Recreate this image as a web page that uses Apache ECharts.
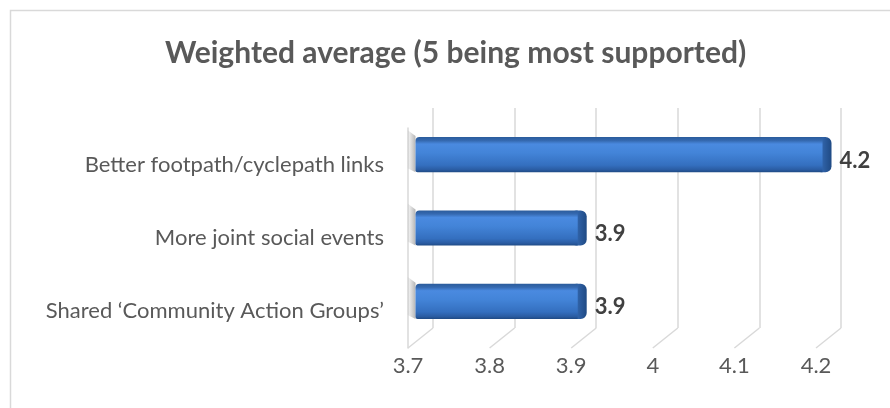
<!DOCTYPE html>
<html>
<head>
<meta charset="utf-8">
<script src="https://cdn.jsdelivr.net/npm/echarts@6/dist/echarts.min.js"></script>
<style>
html,body{margin:0;padding:0;background:#fff;}
#chart{width:890px;height:408px;}
</style>
</head>
<body>
<div id="chart"></div>
<script>
// ---- data ----
const categories = ['Better footpath/cyclepath links', 'More joint social events', 'Shared \u2018Community Action Groups\u2019'];
const values = [4.2, 3.9, 3.9];
const axisMin = 3.7;
const axisMax = 4.2;
const axisStep = 0.1;
const tickValues = [3.7, 3.8, 3.9, 4.0, 4.1, 4.2];
const titleText = 'Weighted average (5 being most supported)';

// ---- layout / style ----
const FONT = 'Lato';
const depthX = 25, depthY = 20;
const front = { left: 408, top: 128, width: 408, height: 220 };
const gridCol = '#d9d9d9';

const chart = echarts.init(document.getElementById('chart'), null, { renderer: 'canvas' });

function mkGrid(dx, dy) {
  return { left: front.left + dx, top: front.top - dy, width: front.width, height: front.height, containLabel: false };
}

const option = {
  animation: false,
  backgroundColor: '#ffffff',
  title: {
    text: titleText,
    left: 165,
    top: 38,
    padding: 0,
    textStyle: { fontFamily: FONT, fontWeight: 'bold', fontSize: 30, color: '#595959' }
  },
  graphic: [{
    type: 'rect', silent: true, z: -1,
    shape: { x: 10.5, y: 10.5, width: 900, height: 420 },
    style: { fill: 'none', stroke: '#d9d9d9', lineWidth: 1.5 }
  }],
  grid: [mkGrid(0, 0), mkGrid(depthX, depthY), mkGrid(depthX / 2, depthY / 2)],
  xAxis: [
    { gridIndex: 0, type: 'value', min: axisMin, max: axisMax, interval: axisStep,
      axisLine: { show: false }, axisTick: { show: false }, splitLine: { show: false },
      axisLabel: { color: '#595959', fontFamily: FONT, fontSize: 22, margin: 7 } },
    { gridIndex: 1, type: 'value', min: axisMin, max: axisMax, interval: axisStep,
      axisLine: { show: false }, axisTick: { show: false }, axisLabel: { show: false },
      splitLine: { show: true, lineStyle: { color: gridCol, width: 1.5 } } },
    { gridIndex: 2, type: 'value', min: axisMin, max: axisMax, interval: axisStep, show: false }
  ],
  yAxis: [
    { gridIndex: 0, type: 'category', data: categories, inverse: true,
      axisLine: { show: true, lineStyle: { color: gridCol, width: 1.5 } },
      axisTick: { show: false }, splitLine: { show: false },
      axisLabel: { color: '#595959', fontFamily: FONT, fontSize: 22, margin: 24 } },
    { gridIndex: 1, type: 'category', data: categories, inverse: true, show: false },
    { gridIndex: 2, type: 'category', data: categories, inverse: true, show: false }
  ],
  series: [
    {
      type: 'custom', name: 'floor', xAxisIndex: 0, yAxisIndex: 0, silent: true,
      data: tickValues.map(v => [v, 0]),
      encode: { x: 0, y: 1 },
      renderItem: function (params, api) {
        const cs = params.coordSys;
        const x = api.coord([api.value(0), 0])[0];
        const yb = cs.y + cs.height;
        return { type: 'line', shape: { x1: x, y1: yb, x2: x + depthX, y2: yb - depthY },
          style: { stroke: gridCol, lineWidth: 1.5 } };
      }
    },
    {
      type: 'custom', name: 'bars', xAxisIndex: 2, yAxisIndex: 2,
      data: values.map((v, i) => [v, i]),
      encode: { x: 0, y: 1 },
      renderItem: function (params, api) {
        const v = api.value(0), idx = api.value(1);
        const p0 = api.coord([axisMin, idx]);
        const p1 = api.coord([v, idx]);
        const band = api.size([0, 1])[1];
        const h = band * 0.48;
        const top = p0[1] - h / 2, bot = p0[1] + h / 2;
        const x0 = p0[0] - 5, x1 = p1[0] + 3;
        return {
          type: 'group',
          children: [
            { type: 'polygon',
              shape: { points: [[x0 - 8, top - 7], [x0, top - 1], [x0, bot], [x0 - 8, bot - 4]] },
              style: { fill: new echarts.graphic.LinearGradient(0, 0, 1, 0, [
                { offset: 0, color: 'rgba(120,120,120,0.05)' }, { offset: 1, color: 'rgba(90,90,90,0.45)' }]) } },
            { type: 'rect', shape: { x: x1 - 14, y: top, width: 14, height: h, r: [4, 6, 6, 4] },
              style: { fill: new echarts.graphic.LinearGradient(0, 0, 1, 0, [
                { offset: 0, color: '#3a72bd' }, { offset: 0.5, color: '#2c5da0' }, { offset: 1, color: '#1f4a84' }]) } },
            { type: 'rect', shape: { x: x0, y: top, width: x1 - x0 - 9, height: h, r: [4, 0, 0, 2] },
              style: { fill: new echarts.graphic.LinearGradient(0, 0, 0, 1, [
                { offset: 0, color: '#2b5c9c' }, { offset: 0.1, color: '#3569b0' }, { offset: 0.2, color: '#4a8ae0' },
                { offset: 0.45, color: '#4384d8' }, { offset: 0.8, color: '#346fbf' }, { offset: 0.93, color: '#2a5ca2' },
                { offset: 1, color: '#1f4a84' }]) } },
            { type: 'text',
              style: { text: String(v), x: x1 + 8, y: p0[1] + 6, align: 'left', verticalAlign: 'middle',
                fontFamily: FONT, fontWeight: 'bold', fontSize: 22, fill: '#404040' } }
          ]
        };
      }
    }
  ]
};
chart.setOption(option);
</script>
</body>
</html>
